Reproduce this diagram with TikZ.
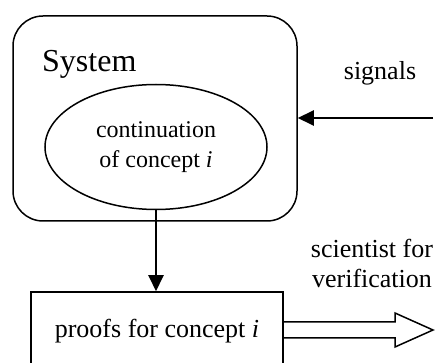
\documentclass[tikz,border=0pt]{standalone}
\usepackage{fontspec}
\setmainfont{Liberation Serif}
\usetikzlibrary{arrows.meta,shapes.geometric,calc}
\begin{document}
\begin{tikzpicture}[x=1pt,y=-1pt,
  txt/.style={font=\fontsize{26}{30}\selectfont},
  sysbox/.style={draw,line width=1.5pt,rounded corners=30pt,minimum width=284pt,minimum height=205pt,inner sep=0pt},
  concept/.style={draw,ellipse,line width=1.5pt,minimum width=222pt,minimum height=125pt,inner sep=0pt,align=center,font=\fontsize{24}{30}\selectfont},
  proofbox/.style={draw,line width=1.5pt,minimum width=252pt,minimum height=78pt,inner sep=0pt,font=\fontsize{26}{30}\selectfont},
  flow/.style={line width=2pt,-{Triangle[length=16pt,width=15pt]}},
  hollow/.style={line width=1.5pt,line join=miter}]
\useasboundingbox (0,0) rectangle (437,363);
\clip (0,0) rectangle (437,363);

% system with the concept inside
\node[sysbox] (sys) at (155,118.5) {};
\node[anchor=base west,font=\fontsize{32}{36}\selectfont,inner sep=0pt] (systitle) at (42,72) {System};
\node[concept] (cont) at (156,147) {continuation\\of concept \textit{i}};

% proofs box (runs past the lower edge)
\node[proofbox] (proofs) at (157,331) {proofs for concept \textit{i}};

% incoming signals
\coordinate (sigsrc) at (433,118);
\draw[flow] (sigsrc) -- (sigsrc -| sys.east);
\node[txt,anchor=base,inner sep=0pt] (siglabel) at (380,80) {signals};

% from the concept to the proofs
\draw[flow] (cont.south) -- (cont.south |- proofs.north);

% outgoing hollow arrow
\coordinate (outtip) at (433,330);
\coordinate (sa) at (proofs.east |- 0,322);
\coordinate (sb) at (proofs.east |- 0,338);
\draw[hollow] (sa) -- (395,322) -- (395,313) -- (outtip) -- (395,347) -- (395,338) -- (sb);
\node[txt,anchor=base,inner sep=0pt] (scilabel) at (372,258) {scientist for};
\node[txt,anchor=base,inner sep=0pt] (verlabel) at (372,288) {verification};
\end{tikzpicture}
\end{document}
